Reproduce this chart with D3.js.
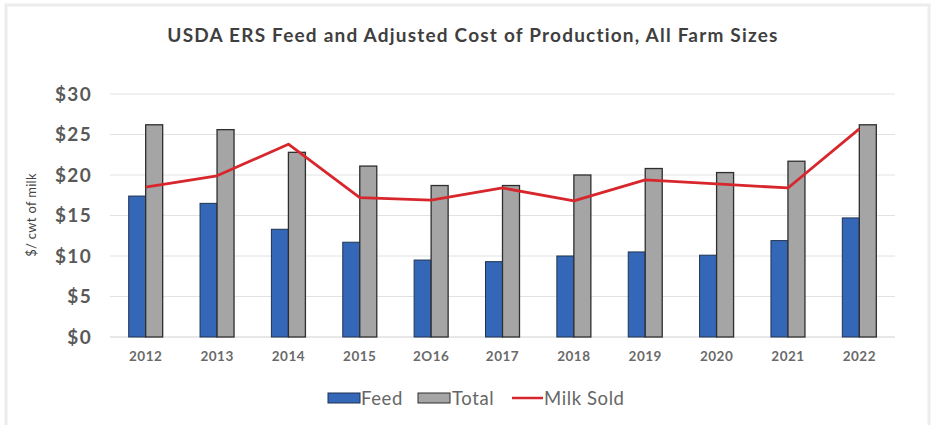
<!DOCTYPE html>
<html>
<head>
<meta charset="utf-8">
<script src="https://cdn.jsdelivr.net/npm/d3@7"></script>
<style>
  html, body { margin: 0; padding: 0; background: #fff; }
  svg { display: block; }
</style>
</head>
<body>
<svg id="chart" width="932" height="425"></svg>
<script>
// Dairy cost of production, $/cwt of milk
const years = ["2012", "2013", "2014", "2015", "2O16", "2017", "2018", "2019", "2020", "2021", "2022"];
const feed = [17.4, 16.5, 13.3, 11.7, 9.5, 9.3, 10.0, 10.5, 10.1, 11.9, 14.7];
const total = [26.2, 25.6, 22.8, 21.1, 18.7, 18.7, 20.0, 20.8, 20.3, 21.7, 26.2];
const milkSold = [18.5, 19.9, 23.8, 17.2, 16.9, 18.4, 16.8, 19.4, 18.9, 18.4, 25.7];
const yTicks = [0, 5, 10, 15, 20, 25, 30];

const svg = d3.select("#chart");
const W = 932, H = 425;
const margin = { top: 94, right: 37, bottom: 88, left: 110 };
const plotW = W - margin.left - margin.right;
const plotH = H - margin.top - margin.bottom;

const font = "Lato, 'Open Sans', sans-serif";
const textColor = "#595959";

// faint outer frame
svg.append("rect")
  .attr("x", 6).attr("y", 5).attr("width", W - 9).attr("height", H - 3)
  .attr("fill", "none").attr("stroke", "#ececec").attr("stroke-width", 3);

const g = svg.append("g").attr("transform", `translate(${margin.left},${margin.top})`);

const x = d3.scaleBand().domain(years).range([0, plotW]).paddingInner(0).paddingOuter(0);
const y = d3.scaleLinear().domain([0, 30]).range([plotH, 0]);

// gridlines
g.append("g")
  .selectAll("line")
  .data(yTicks)
  .join("line")
  .attr("x1", 0).attr("x2", plotW)
  .attr("y1", d => y(d)).attr("y2", d => y(d))
  .attr("stroke", d => d === 0 ? "#d0d0d0" : "#e2e2e2")
  .attr("stroke-width", 1);

// y axis labels
const yAxis = d3.axisLeft(y).tickValues(yTicks).tickFormat(d => "$" + d).tickSize(0).tickPadding(18);
g.append("g").call(yAxis)
  .call(s => s.select(".domain").remove())
  .selectAll("text")
  .attr("font-family", font)
  .attr("font-size", 19)
  .attr("letter-spacing", 1.3)
  .attr("font-weight", "bold")
  .attr("fill", textColor);

// x axis labels
const xAxis = d3.axisBottom(x).tickSize(0).tickPadding(14);
g.append("g").attr("transform", `translate(0,${plotH})`).call(xAxis)
  .call(s => s.select(".domain").remove())
  .selectAll("text")
  .attr("font-family", font)
  .attr("font-size", 13.5)
  .attr("letter-spacing", 0.5)
  .attr("font-weight", "bold")
  .attr("fill", "#6a6a6a");

// bars
const barW = 17;
const sub = d3.scaleBand().domain(["feed", "total"]).range([0, barW * 2]);
const groups = g.append("g")
  .selectAll("g")
  .data(years.map((yr, i) => ({ yr, feed: feed[i], total: total[i] })))
  .join("g")
  .attr("transform", d => `translate(${x(d.yr) + x.bandwidth() / 2 - barW},0)`);

groups.append("rect")
  .attr("x", sub("feed"))
  .attr("width", sub.bandwidth())
  .attr("y", d => y(d.feed))
  .attr("height", d => y(0) - y(d.feed))
  .attr("fill", "#3567b8")
  .attr("stroke", "#1f3350")
  .attr("stroke-width", 1);

groups.append("rect")
  .attr("x", sub("total"))
  .attr("width", sub.bandwidth())
  .attr("y", d => y(d.total))
  .attr("height", d => y(0) - y(d.total))
  .attr("fill", "#a5a5a5")
  .attr("stroke", "#2e2e2e")
  .attr("stroke-width", 1.3);

// milk sold line
const line = d3.line()
  .x((d, i) => x(years[i]) + x.bandwidth() / 2)
  .y(d => y(d));
g.append("path")
  .datum(milkSold)
  .attr("d", line)
  .attr("fill", "none")
  .attr("stroke", "#d7262c")
  .attr("stroke-width", 2.8)
  .attr("stroke-linejoin", "round");

// title
svg.append("text")
  .attr("x", 473).attr("y", 42)
  .attr("text-anchor", "middle")
  .attr("font-family", font)
  .attr("font-size", 19)
  .attr("letter-spacing", 1.2)
  .attr("font-weight", "bold")
  .attr("fill", "#3f3f3f")
  .text("USDA ERS Feed and Adjusted Cost of Production,  All Farm Sizes");

// y axis title
svg.append("text")
  .attr("transform", `translate(36,215) rotate(-90)`)
  .attr("text-anchor", "middle")
  .attr("font-family", font)
  .attr("font-size", 13)
  .attr("letter-spacing", 0.3)
  .attr("fill", "#444")
  .text("$/ cwt of milk");

// legend
const legend = svg.append("g").attr("font-family", font).attr("font-size", 18.5)
  .attr("letter-spacing", 0.6).attr("fill", "#666");
const legY = 398;
legend.append("rect").attr("x", 328).attr("y", legY - 5).attr("width", 32).attr("height", 10)
  .attr("fill", "#3567b8").attr("stroke", "#1f3350");
legend.append("text").attr("x", 361).attr("y", legY + 7).text("Feed");
legend.append("rect").attr("x", 418).attr("y", legY - 5).attr("width", 32).attr("height", 10)
  .attr("fill", "#a5a5a5").attr("stroke", "#2e2e2e");
legend.append("text").attr("x", 452).attr("y", legY + 7).text("Total");
legend.append("line").attr("x1", 512).attr("x2", 543).attr("y1", legY).attr("y2", legY)
  .attr("stroke", "#d7262c").attr("stroke-width", 2.5);
legend.append("text").attr("x", 544).attr("y", legY + 7).text("Milk Sold");
</script>
</body>
</html>
